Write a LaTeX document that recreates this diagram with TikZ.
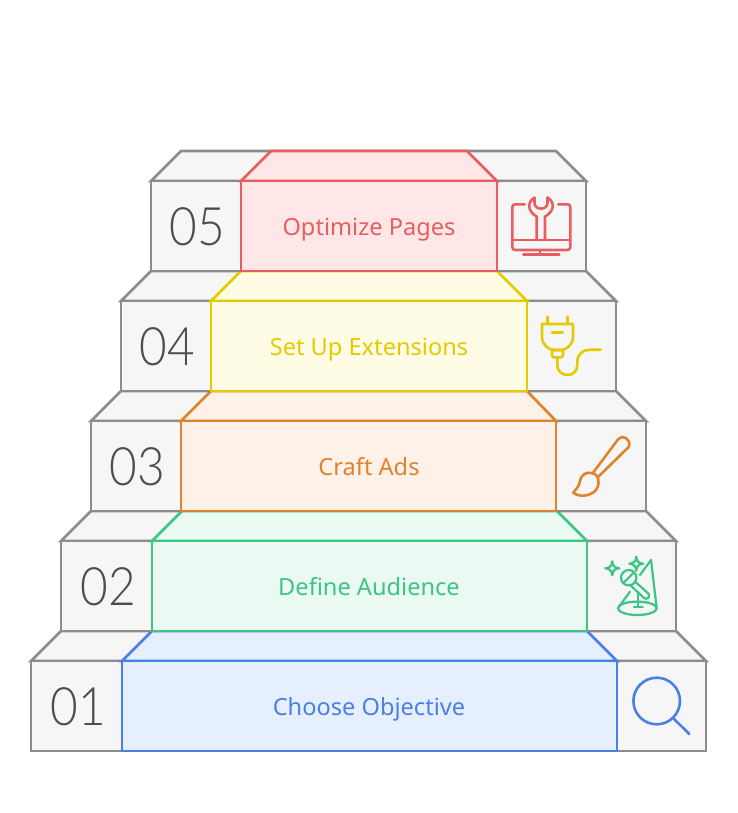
\documentclass[tikz,border=0pt]{standalone}
\usepackage{fontspec}
\setmainfont{Noto Sans}
\newfontfamily\numfont[FakeStretch=0.9]{Lato Light}
\definecolor{blueC}{HTML}{4A80E4}
\definecolor{blueF}{HTML}{E6EFFE}
\definecolor{greenC}{HTML}{3CC583}
\definecolor{greenF}{HTML}{EAFAF3}
\definecolor{orangeC}{HTML}{E0832F}
\definecolor{orangeF}{HTML}{FEF2E8}
\definecolor{yellowC}{HTML}{E3CB00}
\definecolor{yellowF}{HTML}{FFFCE6}
\definecolor{redC}{HTML}{E85E5E}
\definecolor{redF}{HTML}{FFE7E7}
\definecolor{grayC}{HTML}{8C8C8C}
\definecolor{grayF}{HTML}{F6F6F6}
\definecolor{numC}{HTML}{4D4D4D}
\tikzstyle{backstep}=[draw=grayC,fill=grayF,line width=2.7pt,line join=miter]
\tikzstyle{number}=[text=numC,font=\numfont\fontsize{53}{60}\selectfont,inner sep=0pt,anchor=base]
\tikzstyle{label}=[font=\fontsize{23.6}{28}\selectfont,inner sep=0pt,anchor=base]
\tikzstyle{icon}=[line width=2.6pt,line cap=round,line join=round]
\begin{document}
\begin{tikzpicture}[x=1pt,y=-1pt]
    \useasboundingbox (0,0) rectangle (738,813);
    % Draw the steps from the bottom up
    \foreach \y/\gl/\gr/\cl/\cr/\tl/\tr/\col/\num/\name in {
        661/31/706/122/617/152/587/blue/01/Choose Objective,
        541/61/676/152/587/182/557/green/02/Define Audience,
        421/91/646/181/556/211/527/orange/03/Craft Ads,
        301/121/616/211/527/241/497/yellow/04/Set Up Extensions,
        181/151/586/241/497/271/467/red/05/Optimize Pages}{
        \pgfmathsetmacro{\ytop}{\y-30}
        \pgfmathsetmacro{\ybot}{\y+90}
        \pgfmathsetmacro{\ynum}{\y+64}
        \pgfmathsetmacro{\ytxt}{\y+54}
        \pgfmathsetmacro{\gtl}{\gl+30}
        \pgfmathsetmacro{\gtr}{\gr-30}
        % grey block behind
        \path[backstep] (\gl,\y) -- (\gtl,\ytop) -- (\gtr,\ytop) -- (\gr,\y) -- cycle;
        \path[backstep] (\gl,\y) rectangle (\gr,\ybot);
        % coloured front
        \path[draw=\col C,fill=\col F,line width=2.7pt] (\cl,\y) -- (\tl,\ytop) -- (\tr,\ytop) -- (\cr,\y) -- cycle;
        \path[draw=\col C,fill=\col F,line width=2.7pt] (\cl,\y) rectangle (\cr,\ybot);
        \pgfmathsetmacro{\xnum}{(\gl+\cl)/2+1.5}
        \node[number] (num\num) at (\xnum,\ynum) {\num};
        \node[label,text=\col C] (step\num) at (369,\ytxt) {\name};
    }
    % Magnifier
    \draw[icon,blueC] (656.7,701) circle (23.3);
    \draw[icon,blueC] (674,719) -- (689.3,734);
    % Microphone and spotlight
    \draw[icon,greenC,line width=2.2pt] (612.3,561.3) .. controls (612.8,566) and (614.5,567.8) .. (619.3,568.3) .. controls (614.5,568.8) and (612.8,570.6) .. (612.3,575.3) .. controls (611.8,570.6) and (610,568.8) .. (605.3,568.3) .. controls (610,567.8) and (611.8,566) .. cycle;
    \draw[icon,greenC,line width=2.2pt] (636.3,556.7) .. controls (636.8,561.4) and (638.5,563.2) .. (643.3,563.7) .. controls (638.5,564.2) and (636.8,566) .. (636.3,570.7) .. controls (635.8,566) and (634,564.2) .. (629.3,563.7) .. controls (634,563.2) and (635.8,561.4) .. cycle;
    \draw[icon,greenC,line width=2.2pt] (640,575) -- (651,560) -- (656.7,608.3);
    \draw[icon,greenC,line width=2.2pt] (630,591.7) -- (619,606.7);
    \draw[icon,greenC,line width=2.2pt] (637.3,608.3) ellipse (19.3 and 6.7);
    \draw[icon,greenC,line width=2.2pt] (628.7,577.7) circle (7.7);
    \draw[icon,greenC,line width=2.2pt] (623.3,583.1) -- (634.1,572.3);
    \draw[icon,greenC,line width=2.2pt] (634.6,581.2) -- (648.3,593.5) .. controls (651,596.5) and (647,600.5) .. (644,598) -- (629.5,584.5);
    \draw[icon,greenC,line width=2.2pt] (638.3,591.7) -- (638.3,607.3) (634,607.3) -- (642.7,607.3);
    % Paint brush
    \draw[icon,orangeC] (592.7,473.3) -- (618.3,439) .. controls (622,434.5) and (631,438) .. (629,446.7) -- (597.7,477.3);
    \draw[icon,orangeC] (592.7,473.3) .. controls (587,471) and (580.5,475) .. (580,481) .. controls (579.5,486) and (576,489) .. (573.3,492.7) .. controls (578,497) and (590,497) .. (596,490) .. controls (599,486) and (599,481) .. (597.7,477.3) .. controls (596.5,475) and (595,474) .. (592.7,473.3) -- cycle;
    % Plug
    \draw[icon,yellowC] (547.3,316.7) -- (547.3,324) (567.3,316.7) -- (567.3,324);
    \draw[icon,yellowC] (542,324) -- (573,324) -- (573,337) .. controls (573,345) and (566,350) .. (561,350) -- (554,350) .. controls (549,350) and (542,345) .. (542,337) -- cycle;
    \draw[icon,yellowC] (552,332.3) -- (562.7,332.3);
    \draw[icon,yellowC,rounded corners=1.5pt] (552,350) rectangle (563,357.3);
    \draw[icon,yellowC] (557.3,357.3) -- (557.3,365) .. controls (557.3,371) and (562,375) .. (567.5,375) .. controls (573,375) and (577.3,371) .. (577.3,365) -- (577.3,362) .. controls (577.3,354) and (583,349.7) .. (590,349.7) -- (600.7,349.7);
    % Monitor and wrench
    \draw[icon,redC] (524.7,204.3) -- (515.3,204.3) .. controls (513.3,204.3) and (512.3,205.3) .. (512.3,207.3) -- (512.3,247) .. controls (512.3,249) and (513.3,250) .. (515.3,250) -- (567.3,250) .. controls (569.3,250) and (570.3,249) .. (570.3,247) -- (570.3,207.3) .. controls (570.3,205.3) and (569.3,204.3) .. (567.3,204.3) -- (558.3,204.3);
    \draw[icon,redC] (512.3,240) -- (570.3,240);
    \draw[icon,redC] (540,250) -- (540,254.7) (523.3,254.7) -- (559.3,254.7);
    \draw[icon,redC] (536.7,240) -- (536.7,216.5) .. controls (528.5,212) and (526,203) .. (534.5,197.5) -- (534.5,203) .. controls (534.5,210.5) and (547.5,210.5) .. (547.5,203) -- (547.5,197.5) .. controls (556,203) and (553.5,212) .. (545,216.5) -- (545,240);
\end{tikzpicture}
\end{document}
